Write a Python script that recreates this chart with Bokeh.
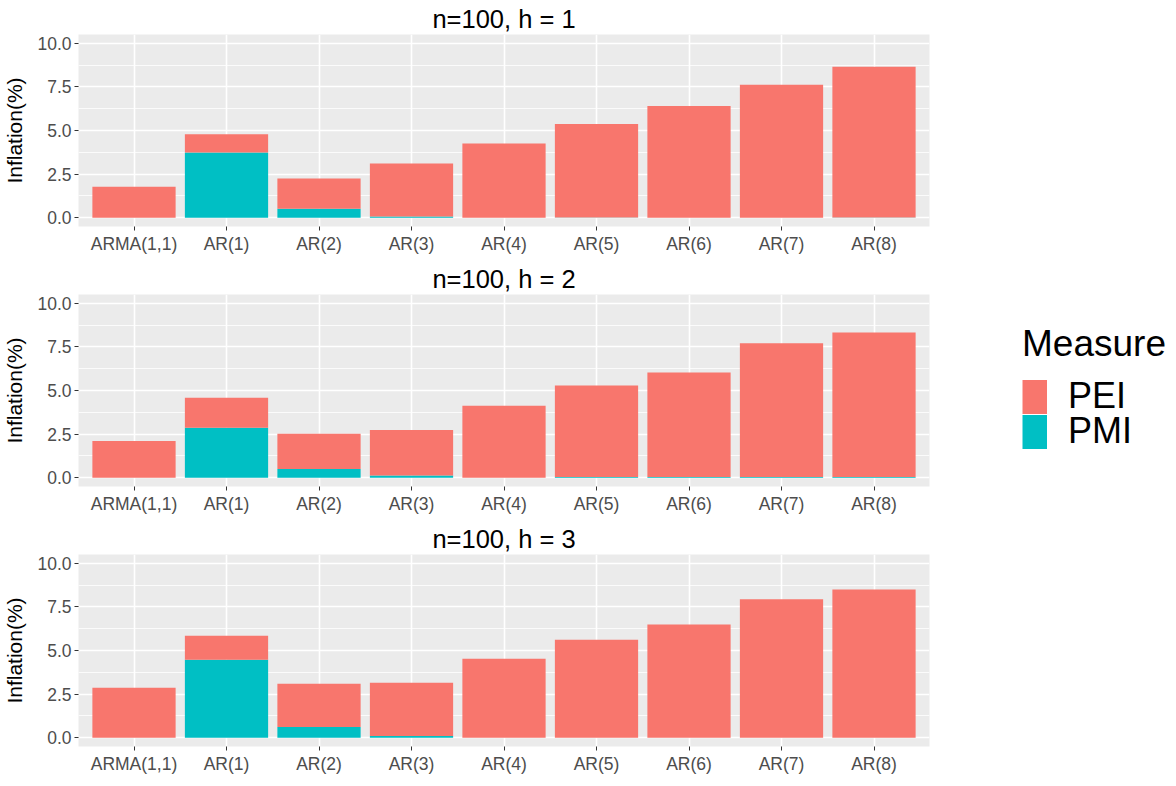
from bokeh.plotting import figure
from bokeh.models import FactorRange, Range1d, FixedTicker, Legend, LegendItem, ColumnDataSource
from bokeh.layouts import column, row
from bokeh.embed import file_html
from bokeh.resources import INLINE

models = ["ARMA(1,1)", "AR(1)", "AR(2)", "AR(3)", "AR(4)", "AR(5)", "AR(6)", "AR(7)", "AR(8)"]
titles = ["n=100, h = 1", "n=100, h = 2", "n=100, h = 3"]
measures = ["PEI", "PMI"]

pei_h1 = [1.78, 1.04, 1.73, 3.03, 4.26, 5.35, 6.41, 7.62, 8.63]
pmi_h1 = [0.00, 3.74, 0.52, 0.08, 0.00, 0.02, 0.00, 0.00, 0.02]
pei_h2 = [2.11, 1.73, 2.02, 2.61, 4.13, 5.23, 5.98, 7.65, 8.28]
pmi_h2 = [0.00, 2.86, 0.50, 0.13, 0.00, 0.05, 0.05, 0.05, 0.05]
pei_h3 = [2.86, 1.38, 2.47, 3.05, 4.53, 5.62, 6.49, 7.93, 8.50]
pmi_h3 = [0.00, 4.47, 0.62, 0.10, 0.00, 0.00, 0.00, 0.00, 0.00]

y_ticks = [0, 2.5, 5, 7.5, 10]
y_tick_labels = ["0.0", "2.5", "5.0", "7.5", "10.0"]
y_minor = [1.25, 3.75, 6.25, 8.75]

PEI_COLOR = "#F8766D"
PMI_COLOR = "#00BFC4"
FONT = "Liberation Sans"

panels = [(pei_h1, pmi_h1), (pei_h2, pmi_h2), (pei_h3, pmi_h3)]
bottom_borders = [34, 34, 0]
figs = []
for i, (pei, pmi) in enumerate(panels):
    src = ColumnDataSource(dict(model=models, PEI=pei, PMI=pmi))
    p = figure(x_range=FactorRange(factors=models, range_padding=0.1, range_padding_units="absolute"),
               y_range=Range1d(-0.5, 10.5),
               frame_width=851, frame_height=192,
               output_backend="svg", toolbar_location=None,
               min_border_left=0, min_border_right=5,
               min_border_top=0, min_border_bottom=bottom_borders[i],
               background_fill_color="#EBEBEB", border_fill_color="white",
               outline_line_color=None)
    p.vbar_stack(["PMI", "PEI"], x="model", width=0.9, source=src,
                 color=[PMI_COLOR, PEI_COLOR], line_color=None)
    p.title.text = titles[i]
    p.title.text_font = FONT
    p.title.text_font_size = "25.5px"
    p.title.text_font_style = "normal"
    p.title.align = "center"
    p.title.text_color = "black"
    p.title.standoff = 4

    p.yaxis.ticker = FixedTicker(ticks=y_ticks, minor_ticks=y_minor)
    p.yaxis.major_label_overrides = {t: l for t, l in zip(y_ticks, y_tick_labels)}
    p.yaxis.axis_label = "Inflation(%)"
    p.yaxis.axis_label_text_font = FONT
    p.yaxis.axis_label_text_font_size = "21px"
    p.yaxis.axis_label_text_font_style = "normal"
    p.yaxis.axis_label_text_color = "black"
    p.yaxis.axis_label_standoff = 8
    for ax in (p.xaxis, p.yaxis):
        ax.axis_line_color = None
        ax.major_tick_line_color = "#333333"
        ax.major_tick_out = 4
        ax.major_tick_in = 0
        ax.minor_tick_line_color = None
        ax.major_label_text_font = FONT
        ax.major_label_text_font_size = "17.5px"
        ax.major_label_text_color = "#4D4D4D"
        ax.major_label_standoff = 3

    p.ygrid.grid_line_color = "white"
    p.ygrid.grid_line_width = 1.6
    p.ygrid.minor_grid_line_color = "white"
    p.ygrid.minor_grid_line_width = 0.8
    p.xgrid.grid_line_color = "white"
    p.xgrid.grid_line_width = 1.6
    figs.append(p)

# legend panel: a separate figure whose (hidden) renderers only feed the legend keys
lsrc = ColumnDataSource(dict(model=models, PEI=pei_h2, PMI=pmi_h2))
lf = figure(x_range=FactorRange(factors=models), y_range=Range1d(-0.5, 10.5),
            frame_width=232, frame_height=700,
            output_backend="svg", toolbar_location=None,
            x_axis_location=None, y_axis_location=None,
            min_border=0, outline_line_color=None,
            background_fill_color="white", border_fill_color="white")
lf.grid.visible = False
r_pei = lf.line(x="model", y="PEI", source=lsrc, line_color=PEI_COLOR, line_width=34, visible=False)
r_pmi = lf.line(x="model", y="PMI", source=lsrc, line_color=PMI_COLOR, line_width=34, visible=False)

common = dict(padding=0, margin=0, spacing=0,
              border_line_color=None, background_fill_alpha=0,
              inactive_fill_alpha=0,
              glyph_width=25, glyph_height=35, label_height=34,
              label_standoff=21,
              label_text_font=FONT, label_text_font_size="36px",
              label_text_color="black")
legend1 = Legend(items=[LegendItem(label=measures[0], renderers=[r_pei])],
                 location=(88, 283), title="Measure",
                 title_text_font=FONT, title_text_font_size="37px",
                 title_text_font_style="normal", title_text_color="black",
                 title_standoff=10, **common)
legend2 = Legend(items=[LegendItem(label=measures[1], renderers=[r_pmi])],
                 location=(88, 248), **common)
lf.add_layout(legend1, "center")
lf.add_layout(legend2, "center")

layout = row(column(*figs, spacing=0), lf, spacing=0)
open("out.html", "w").write(file_html(layout, INLINE))
